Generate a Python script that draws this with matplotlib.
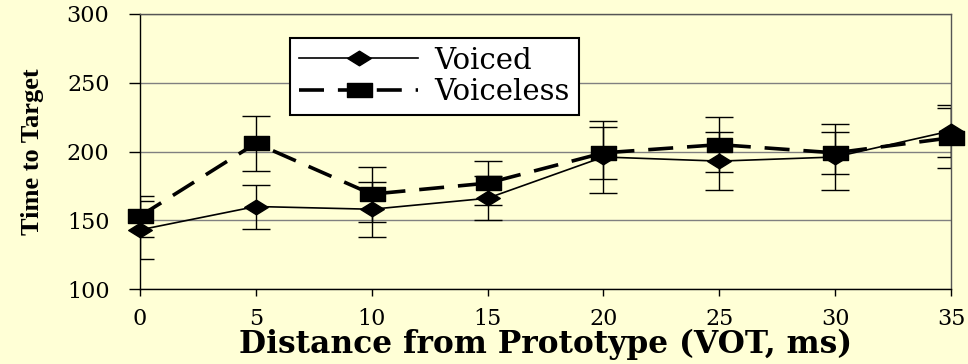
import matplotlib.pyplot as plt
from matplotlib.path import Path

plt.rcParams['lines.scale_dashes'] = False

distance = [0, 5, 10, 15, 20, 25, 30, 35]
voiced = [143, 160, 158, 166, 196, 193, 196, 215]
voiced_err = [21, 16, 20, 16, 26, 21, 24, 19]
voiceless = [153, 206, 169, 177, 199, 205, 199, 210]
voiceless_err = [15, 20, 20, 16, 19, 20, 15, 22]
xticks = [0, 5, 10, 15, 20, 25, 30, 35]
yticks = [100, 150, 200, 250, 300]

bg = '#FFFFD6'
serif = ['DejaVu Serif']

# wide markers (the original is stretched horizontally)
diamond = Path([(-1, 0), (0, 0.62), (1, 0), (0, -0.62), (-1, 0)],
               [Path.MOVETO, Path.LINETO, Path.LINETO, Path.LINETO, Path.CLOSEPOLY])
square = Path([(-1, -0.58), (1, -0.58), (1, 0.58), (-1, 0.58), (-1, -0.58)],
              [Path.MOVETO, Path.LINETO, Path.LINETO, Path.LINETO, Path.CLOSEPOLY])

fig = plt.figure(figsize=(9.68, 3.64), dpi=100, facecolor=bg)
ax = fig.add_axes([140 / 968, 75 / 364, 811 / 968, 275 / 364], facecolor=bg)

ax.errorbar(distance, voiced, yerr=voiced_err, fmt='none', ecolor='black',
            elinewidth=1, capsize=10, capthick=1, zorder=2)
ax.errorbar(distance, voiceless, yerr=voiceless_err, fmt='none', ecolor='black',
            elinewidth=1, capsize=10, capthick=1, zorder=2)

ax.plot(distance, voiced, color='black', lw=1.2, marker=diamond, markersize=17,
        label='Voiced', clip_on=False, zorder=4)
ax.plot(distance, voiceless, color='black', lw=2.6, dashes=(18, 10), marker=square,
        markersize=18, label='Voiceless', clip_on=False, zorder=3)

ax.set_xlim(0, 35)
ax.set_ylim(100, 300)
ax.set_xticks(xticks)
ax.set_yticks(yticks)
ax.grid(axis='y', color='#808080', lw=1)
ax.set_axisbelow(True)

for side in ['top', 'right']:
    ax.spines[side].set_color('#555555')
    ax.spines[side].set_linewidth(1)
for side in ['left', 'bottom']:
    ax.spines[side].set_color('black')
    ax.spines[side].set_linewidth(1)

ax.tick_params(axis='y', direction='out', length=8, width=1, pad=14)
ax.tick_params(axis='x', direction='out', length=5, width=1, pad=9)
for lab in ax.get_xticklabels() + ax.get_yticklabels():
    lab.set_family(serif)
    lab.set_fontsize(16)

ax.set_xlabel('Distance from Prototype (VOT, ms)', family=serif, fontsize=22.5,
              fontweight='bold', labelpad=-1)
ax.set_ylabel('Time to Target', family=['Liberation Serif'], fontsize=19,
              fontweight='bold', labelpad=16)

leg = ax.legend(loc='upper left', bbox_to_anchor=(0.185, 0.913), borderaxespad=0,
                prop={'family': serif, 'size': 21}, handlelength=4.1,
                handletextpad=0.55, labelspacing=0.12, borderpad=0.3,
                fancybox=False, framealpha=1, edgecolor='black', facecolor='white')
leg.get_frame().set_linewidth(1.5)

fig.savefig('out.png', dpi=100, facecolor=bg)
